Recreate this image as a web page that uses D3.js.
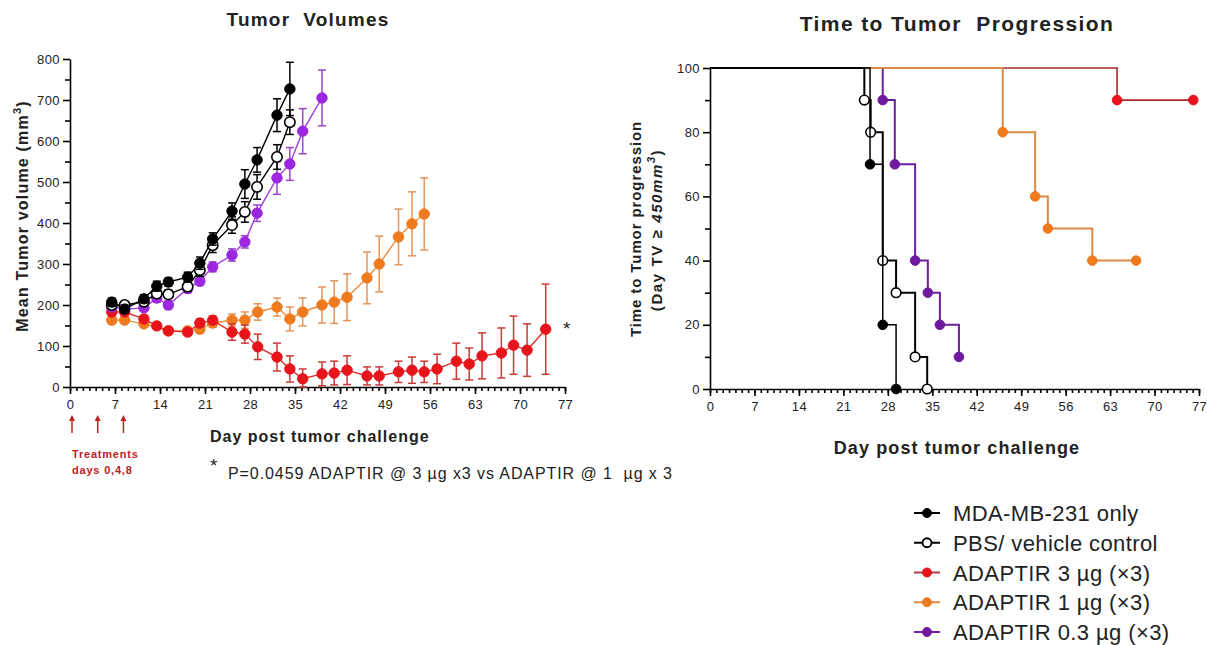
<!DOCTYPE html>
<html lang="en">
<head>
<meta charset="UTF-8">
<title>Tumor Volumes / Time to Tumor Progression</title>
<script src="https://d3js.org/d3.v7.min.js"></script>
<style>
  body { margin: 0; background: #fff; }
  text { font-family: "Liberation Sans", Arial, sans-serif; }
  .axis path, .axis line { stroke: #000; stroke-width: 1.6; }
  .axis text { font-size: 13px; fill: #222; letter-spacing: 0.4px; }
  .bold { font-weight: bold; fill: #222; }
</style>
</head>
<body>
<svg width="1207" height="645"></svg>
<script>
// ---- Tumor volume (mean +/- SEM), left panel ----
const mdaDays = [6.5, 8.5, 11.5, 13.5, 15.3, 18.3, 20.2, 22.2, 25.2, 27.2, 29.1, 32.2, 34.2];
const mdaVol  = [207, 190, 215, 246, 256, 268, 302, 361, 429, 495, 554, 663, 727];
const mdaErr  = [10, 10, 10, 12, 10, 12, 15, 15, 20, 35, 30, 40, 65];

const pbsDays = [6.5, 8.5, 11.5, 13.5, 15.3, 18.3, 20.2, 22.2, 25.2, 27.2, 29.1, 32.2, 34.2];
const pbsVol  = [200, 200, 208, 228, 226, 245, 285, 346, 395, 427, 488, 561, 646];
const pbsErr  = [8, 8, 10, 10, 10, 12, 15, 18, 20, 25, 30, 30, 30];

const adapt3Days = [6.5, 8.5, 11.5, 13.5, 15.3, 18.3, 20.2, 22.2, 25.2, 27.2, 29.2, 32.2, 34.2, 36.2, 39.2, 41.1, 43.1, 46.2, 48.1, 51.1, 53.2, 55.1, 57.1, 60.1, 62.1, 64.1, 67.1, 69.0, 71.1, 74.0];
const adapt3Vol  = [183, 183, 166, 149, 137, 134, 156, 163, 134, 129, 98, 73, 44, 20, 32, 34, 41, 27, 27, 37, 41, 37, 44, 63, 56, 76, 83, 102, 90, 141];
const adapt3Err  = [8, 8, 8, 8, 8, 8, 10, 10, 20, 22, 31, 34, 32, 24, 29, 29, 35, 22, 22, 26, 32, 26, 36, 44, 39, 56, 61, 71, 64, 110];

const adapt1Days = [6.5, 8.5, 11.5, 15.3, 18.3, 20.2, 22.2, 25.2, 27.2, 29.2, 32.2, 34.2, 36.2, 39.2, 41.1, 43.1, 46.2, 48.1, 51.1, 53.2, 55.1];
const adapt1Vol  = [163, 163, 154, 137, 137, 141, 156, 163, 163, 183, 195, 166, 183, 200, 207, 219, 266, 300, 366, 398, 422];
const adapt1Err  = [8, 8, 8, 8, 8, 10, 10, 15, 20, 20, 22, 29, 34, 44, 52, 57, 63, 68, 68, 78, 88];

const adapt03Days = [6.5, 8.5, 11.5, 13.5, 15.3, 18.3, 20.2, 22.2, 25.2, 27.2, 29.1, 32.2, 34.2, 36.2, 39.2];
const adapt03Vol  = [195, 190, 193, 217, 200, 240, 258, 293, 322, 354, 424, 510, 544, 624, 705];
const adapt03Err  = [8, 8, 8, 10, 10, 10, 10, 12, 15, 15, 20, 40, 40, 55, 68];

// ---- Time to progression (Kaplan-Meier steps), right panel ----
const kmMdaDays = [25.2, 27.2, 29.3];               const kmMdaPct = [70, 20, 0];
const kmPbsDays = [24.3, 25.3, 27.2, 29.3, 32.3, 34.2]; const kmPbsPct = [90, 80, 40, 30, 10, 0];
const km3Days   = [64.1, 76.1];                     const km3Pct   = [90, 90];
const km1Days   = [46.1, 51.2, 53.2, 60.2, 67.1];   const km1Pct   = [80, 60, 50, 40, 40];
const km03Days  = [27.2, 29.1, 32.3, 34.3, 36.2, 39.2]; const km03Pct = [90, 70, 40, 30, 20, 10];

const legendLabels = ["MDA-MB-231 only", "PBS/ vehicle control", "ADAPTIR 3 \u00b5g (\u00d73)", "ADAPTIR 1 \u00b5g (\u00d73)", "ADAPTIR 0.3 \u00b5g (\u00d73)"];

const dayTicks = d3.range(0, 78, 7);
const volTicks = d3.range(0, 801, 100);
const pctTicks = d3.range(0, 101, 20);

const svg = d3.select("svg");

// series styles
const series = [
  {name: "orange", days: adapt1Days, vol: adapt1Vol, err: adapt1Err, line: "#f08a3a", fill: "#f07a1e", bar: "#e3955a", open: false},
  {name: "red", days: adapt3Days, vol: adapt3Vol, err: adapt3Err, line: "#e02a2a", fill: "#e8141b", bar: "#c83a36", open: false},
  {name: "purple", days: adapt03Days, vol: adapt03Vol, err: adapt03Err, line: "#a23ce6", fill: "#9b28e0", bar: "#9a45c8", open: false},
  {name: "pbs", days: pbsDays, vol: pbsVol, err: pbsErr, line: "#000", fill: "#fff", bar: "#000", open: true},
  {name: "mda", days: mdaDays, vol: mdaVol, err: mdaErr, line: "#000", fill: "#000", bar: "#000", open: false}
];

// ================= Left panel =================
const xL = d3.scaleLinear().domain([0, 77]).range([70, 565]);
const yL = d3.scaleLinear().domain([0, 800]).range([387, 59]);

// minor ticks
svg.append("g").attr("class", "axis").attr("transform", "translate(0,387)")
  .call(d3.axisBottom(xL).tickValues(d3.range(0, 78, 1)).tickSize(4).tickFormat(""))
  .call(g => g.select(".domain").remove());
svg.append("g").attr("class", "axis").attr("transform", "translate(70,0)")
  .call(d3.axisLeft(yL).tickValues(d3.range(50, 800, 100)).tickSize(5).tickFormat(""))
  .call(g => g.select(".domain").remove());
svg.append("g").attr("class", "axis").attr("transform", "translate(0,387)")
  .call(d3.axisBottom(xL).tickValues(dayTicks).tickSize(7).tickSizeOuter(0).tickPadding(6));
svg.append("g").attr("class", "axis").attr("transform", "translate(70,0)")
  .call(d3.axisLeft(yL).tickValues(volTicks).tickSize(7).tickSizeOuter(0).tickPadding(3));

const lineL = d3.line().x(d => xL(d[0])).y(d => yL(d[1]));

series.forEach(s => {
  const pts = s.days.map((d, i) => [d, s.vol[i], s.err[i]]);
  const g = svg.append("g");
  // error bars
  pts.forEach(p => {
    const x = xL(p[0]), y1 = yL(p[1] + p[2]), y0 = yL(Math.max(0, p[1] - p[2]));
    g.append("line").attr("x1", x).attr("x2", x).attr("y1", y1).attr("y2", y0)
      .attr("stroke", s.bar).attr("stroke-width", 1.5);
    [y1, y0].forEach(yy => g.append("line").attr("x1", x - 4).attr("x2", x + 4)
      .attr("y1", yy).attr("y2", yy).attr("stroke", s.bar).attr("stroke-width", 1.5));
  });
  g.append("path").attr("d", lineL(pts)).attr("fill", "none")
    .attr("stroke", s.line).attr("stroke-width", 1.4);
  g.selectAll("circle").data(pts).join("circle")
    .attr("cx", d => xL(d[0])).attr("cy", d => yL(d[1])).attr("r", 5.2)
    .attr("fill", s.fill).attr("stroke", s.open ? "#000" : s.fill).attr("stroke-width", s.open ? 1.6 : 1);
});

svg.append("text").attr("class", "bold").attr("x", 308).attr("y", 26)
  .attr("text-anchor", "middle").style("font-size", "19px").attr("letter-spacing", "1.2")
  .attr("xml:space", "preserve").text("Tumor  Volumes");

svg.append("text").attr("class", "bold")
  .attr("transform", "translate(28,216) rotate(-90)").attr("text-anchor", "middle")
  .style("font-size", "16px").attr("letter-spacing", "1.2")
  .call(t => {
    t.append("tspan").text("Mean Tumor volume (mm");
    t.append("tspan").attr("dy", -7).style("font-size", "11px").text("3");
    t.append("tspan").attr("dy", 7).text(")");
  });

svg.append("text").attr("class", "bold").attr("x", 210).attr("y", 442)
  .style("font-size", "16px").attr("letter-spacing", "1").text("Day post tumor challenge");

svg.append("text").attr("x", 563).attr("y", 335).style("font-size", "19px").attr("fill", "#222").text("*");

// treatment arrows
const treatDays = [0, 4, 8];
svg.append("defs").append("marker").attr("id", "ah").attr("viewBox", "0 0 10 10")
  .attr("refX", 5).attr("refY", 5).attr("markerWidth", 4).attr("markerHeight", 5)
  .attr("orient", "auto").append("path").attr("d", "M0,0 L10,5 L0,10 Z").attr("fill", "#c0201e");
treatDays.forEach(d => {
  svg.append("line").attr("x1", xL(d) + 2).attr("x2", xL(d) + 2).attr("y1", 433).attr("y2", 418)
    .attr("stroke", "#c0201e").attr("stroke-width", 1.5).attr("marker-end", "url(#ah)");
});
svg.append("text").attr("x", 72).attr("y", 458).style("font-size", "11px").attr("fill", "#c0201e")
  .style("font-weight", "bold").attr("letter-spacing", "0.8").text("Treatments");
svg.append("text").attr("x", 72).attr("y", 474).style("font-size", "11px").attr("fill", "#c0201e")
  .style("font-weight", "bold").attr("letter-spacing", "0.8").text("days 0,4,8");

svg.append("text").attr("x", 210).attr("y", 472).style("font-size", "19px").attr("fill", "#222").text("*");
svg.append("text").attr("x", 228).attr("y", 479).style("font-size", "16px").attr("fill", "#222")
  .attr("xml:space", "preserve").attr("textLength", 444).attr("lengthAdjust", "spacing")
  .text("P=0.0459 ADAPTIR @ 3 \u00b5g x3 vs ADAPTIR @ 1  \u00b5g x 3");

// ================= Right panel =================
const xR = d3.scaleLinear().domain([0, 77]).range([710, 1199]);
const yR = d3.scaleLinear().domain([0, 100]).range([389, 68]);

svg.append("g").attr("class", "axis").attr("transform", "translate(0,389)")
  .call(d3.axisBottom(xR).tickValues(d3.range(0, 78, 1)).tickSize(4).tickFormat(""))
  .call(g => g.select(".domain").remove());
svg.append("g").attr("class", "axis").attr("transform", "translate(710,0)")
  .call(d3.axisLeft(yR).tickValues(d3.range(10, 100, 20)).tickSize(5).tickFormat(""))
  .call(g => g.select(".domain").remove());
svg.append("g").attr("class", "axis").attr("transform", "translate(0,389)")
  .call(d3.axisBottom(xR).tickValues(dayTicks).tickSize(7).tickSizeOuter(0).tickPadding(6));
svg.append("g").attr("class", "axis").attr("transform", "translate(710,0)")
  .call(d3.axisLeft(yR).tickValues(pctTicks).tickSize(7).tickSizeOuter(0).tickPadding(3));

const kmSeries = [
  {days: km03Days, pct: km03Pct, line: "#6e1f9c", fill: "#6e1a9e", open: false, w: 2},
  {days: km3Days, pct: km3Pct, line: "#a8282c", fill: "#e8141b", open: false, w: 1.6},
  {days: km1Days, pct: km1Pct, line: "#d98a45", fill: "#f07a1e", open: false, w: 2},
  {days: kmPbsDays, pct: kmPbsPct, line: "#000", fill: "#fff", open: true, w: 2},
  {days: kmMdaDays, pct: kmMdaPct, line: "#000", fill: "#000", open: false, w: 1.5}
];

kmSeries.forEach(s => {
  let d = `M${xR(0)},${yR(100)}`;
  s.days.forEach((day, i) => { d += `H${xR(day)}V${yR(s.pct[i])}`; });
  svg.append("path").attr("d", d).attr("fill", "none").attr("stroke", s.line).attr("stroke-width", s.w);
  svg.append("g").selectAll("circle").data(s.days.map((day, i) => [day, s.pct[i]])).join("circle")
    .attr("cx", p => xR(p[0])).attr("cy", p => yR(p[1])).attr("r", 4.8)
    .attr("fill", s.fill).attr("stroke", s.open ? "#000" : s.fill).attr("stroke-width", s.open ? 1.6 : 1);
});

svg.append("text").attr("class", "bold").attr("x", 957).attr("y", 31)
  .attr("text-anchor", "middle").style("font-size", "21px").attr("letter-spacing", "1.4")
  .attr("xml:space", "preserve").text("Time to Tumor  Progression");

svg.append("text").attr("class", "bold")
  .attr("transform", "translate(641,229) rotate(-90)").attr("text-anchor", "middle")
  .style("font-size", "15px").attr("letter-spacing", "0.9").text("Time to Tumor progression");
svg.append("text").attr("class", "bold")
  .attr("transform", "translate(662,230) rotate(-90)").attr("text-anchor", "middle")
  .style("font-size", "15px").attr("letter-spacing", "1.6")
  .call(t => {
    t.append("tspan").text("(Day TV \u2265 ");
    t.append("tspan").style("font-style", "italic").text("450mm");
    t.append("tspan").attr("dy", -7).style("font-size", "11px").style("font-style", "italic").text("3");
    t.append("tspan").attr("dy", 7).text(")");
  });

svg.append("text").attr("class", "bold").attr("x", 957).attr("y", 454)
  .attr("text-anchor", "middle").style("font-size", "18px").attr("letter-spacing", "1.1")
  .text("Day post tumor challenge");

// ================= Legend =================
const legendColors = [
  {line: "#000", fill: "#000", open: false},
  {line: "#000", fill: "#fff", open: true},
  {line: "#b03a48", fill: "#e8141b", open: false},
  {line: "#e08a40", fill: "#f07a1e", open: false},
  {line: "#6e1f9c", fill: "#6e1a9e", open: false}
];
const legendY = d3.scalePoint().domain(legendLabels).range([513, 632]);
legendLabels.forEach((lab, i) => {
  const y = legendY(lab), c = legendColors[i];
  svg.append("line").attr("x1", 914).attr("x2", 940).attr("y1", y).attr("y2", y)
    .attr("stroke", c.line).attr("stroke-width", 2);
  svg.append("circle").attr("cx", 927).attr("cy", y).attr("r", 4.5)
    .attr("fill", c.fill).attr("stroke", c.open ? "#000" : c.fill).attr("stroke-width", c.open ? 1.8 : 1);
  svg.append("text").attr("x", 953).attr("y", y + 8).style("font-size", "22px")
    .attr("letter-spacing", "0.4").attr("fill", "#222").text(lab);
});
</script>
</body>
</html>
